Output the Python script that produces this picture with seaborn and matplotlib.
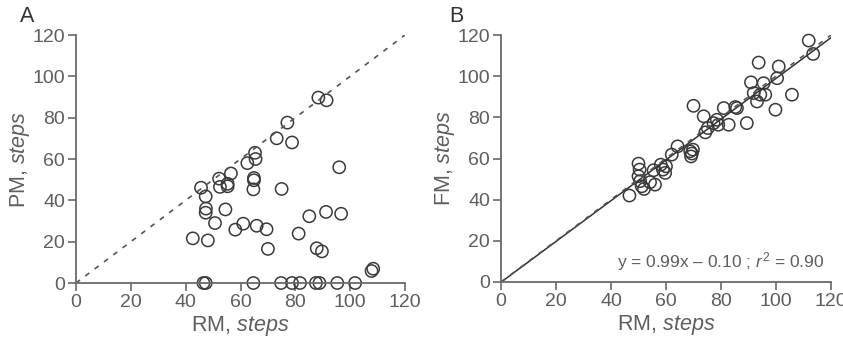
import numpy as np
import pandas as pd
import matplotlib
matplotlib.use("Agg")
import matplotlib.pyplot as plt
import seaborn as sns

# ---- data ----
rm_a = [42.6, 45.6, 47.3, 47.4, 47.3, 48.1, 46.5, 47.3, 50.7, 52.2, 52.5, 55.3, 55.3,
        56.5, 54.5, 58.1, 61.0, 62.5, 65.3, 65.5, 64.9, 64.9, 64.7, 65.9, 69.5, 70.0,
        64.7, 73.2, 77.1, 78.8, 75.0, 74.8, 78.8, 81.7, 81.2, 85.1, 88.4, 91.4, 87.8,
        89.7, 91.2, 96.0, 96.7, 87.5, 88.8, 95.3, 101.8, 107.8, 108.4]
pm_a = [21.6, 46.1, 41.9, 36.0, 34.0, 20.6, 0, 0, 29.0, 50.5, 46.5, 46.8, 48.0,
        53.0, 35.6, 25.8, 28.7, 58.0, 63.0, 60.0, 50.8, 49.7, 45.3, 27.7, 26.0, 16.5,
        0, 70.0, 77.6, 68.0, 45.5, 0, 0, 0, 23.9, 32.3, 89.7, 88.4, 16.8,
        15.3, 34.4, 56.0, 33.5, 0, 0, 0, 0, 5.8, 6.9]

rm_b = [46.7, 50.0, 50.4, 50.0, 50.6, 51.2, 52.0, 54.2, 55.5, 56.0, 58.1, 58.9, 59.7,
        60.0, 62.1, 64.2, 68.8, 69.4, 69.1, 69.8, 70.0, 73.7, 74.3, 75.2, 77.3, 78.5,
        79.0, 81.0, 82.8, 85.2, 85.8, 89.4, 90.9, 91.9, 93.1, 93.7, 94.3, 95.5, 96.1,
        99.8, 100.4, 101.0, 105.8, 111.9, 113.5]
fm_b = [42.0, 57.5, 54.6, 51.4, 49.0, 46.5, 45.2, 48.5, 54.3, 47.3, 57.0, 54.6, 53.0,
        56.2, 61.9, 65.9, 63.5, 62.4, 61.0, 64.3, 85.6, 80.5, 72.7, 74.8, 77.2, 78.8,
        76.4, 84.5, 76.4, 85.0, 84.5, 77.2, 97.0, 91.8, 87.7, 106.6, 91.0, 96.6, 91.0,
        83.7, 99.0, 104.7, 91.0, 117.3, 110.8]

identity_x = [0, 120]
fit_slope = 0.99
fit_intercept = -0.10
ticks = [0, 20, 40, 60, 80, 100, 120]
fit_label = "y = 0.99x \u2013 0.10 ; $r^2$ = 0.90"

# ---- style ----
sns.set_style("white")
plt.rcParams["font.family"] = ["Liberation Sans", "DejaVu Sans"]
plt.rcParams["mathtext.fontset"] = "custom"
plt.rcParams["mathtext.rm"] = "Liberation Sans"
plt.rcParams["mathtext.it"] = "Liberation Sans:italic"

AX_COL = "#6a6a6a"
TXT_COL = "#5e5e5e"
PT_COL = "#3a3a3a"

W, H = 843, 339
fig = plt.figure(figsize=(W / 100, H / 100), dpi=100)
axA = fig.add_axes([76 / W, 56 / H, 329 / W, 248 / H])
axB = fig.add_axes([501 / W, 57 / H, 330 / W, 247 / H])


def style(ax, ylab):
    ax.set_xlim(0, 120)
    ax.set_ylim(0, 120)
    ax.set_xticks(ticks)
    ax.set_yticks(ticks)
    for s in ["top", "right"]:
        ax.spines[s].set_visible(False)
    for s in ["left", "bottom"]:
        ax.spines[s].set_color(AX_COL)
        ax.spines[s].set_linewidth(1.3)
    ax.tick_params(axis="both", direction="out", length=6, width=1.2, color=AX_COL,
                   labelcolor=TXT_COL, labelsize=14, pad=2,
                   bottom=True, left=True)
    ax.set_xlabel("RM, $\\mathit{steps}$", fontsize=15.5, color=TXT_COL, va="top")
    ax.set_ylabel(ylab, fontsize=15.5, color=TXT_COL, va="center")
    ax.xaxis.set_label_coords(0.5, -31 / 248)
    ax.yaxis.set_label_coords(-56 / 329, 0.5)


# Panel A
dfA = pd.DataFrame({"RM": rm_a, "PM": pm_a})
sns.lineplot(x=identity_x, y=identity_x, ax=axA, color="#555555", lw=1.2,
             linestyle=(0, (3, 4)))
sns.scatterplot(data=dfA, x="RM", y="PM", ax=axA, marker="o", s=78,
                facecolor="none", edgecolor=PT_COL, linewidth=1.1)
for c in axA.collections:
    c.set_clip_on(False)
style(axA, "PM, $\\mathit{steps}$")

# Panel B
dfB = pd.DataFrame({"RM": rm_b, "FM": fm_b})
fit_x = np.array(identity_x, dtype=float)
fit_y = fit_slope * fit_x + fit_intercept
sns.lineplot(x=fit_x, y=fit_y, ax=axB, color="#333333", lw=1.1)
sns.lineplot(x=identity_x, y=identity_x, ax=axB, color="#555555", lw=1.2,
             linestyle=(0, (3, 4)))
sns.scatterplot(data=dfB, x="RM", y="FM", ax=axB, marker="o", s=78,
                facecolor="none", edgecolor=PT_COL, linewidth=1.1)
for c in axB.collections:
    c.set_clip_on(False)
style(axB, "FM, $\\mathit{steps}$")
axB.text(117.5, 4.5, fit_label, fontsize=12.5, color=TXT_COL, ha="right", va="bottom")

# panel letters
fig.text(20 / W, 1 - 6 / H, "A", fontsize=15.5, color="#333333", ha="left", va="top")
fig.text(449 / W, 1 - 6 / H, "B", fontsize=15.5, color="#333333", ha="left", va="top")

fig.savefig("out.png", dpi=100)
